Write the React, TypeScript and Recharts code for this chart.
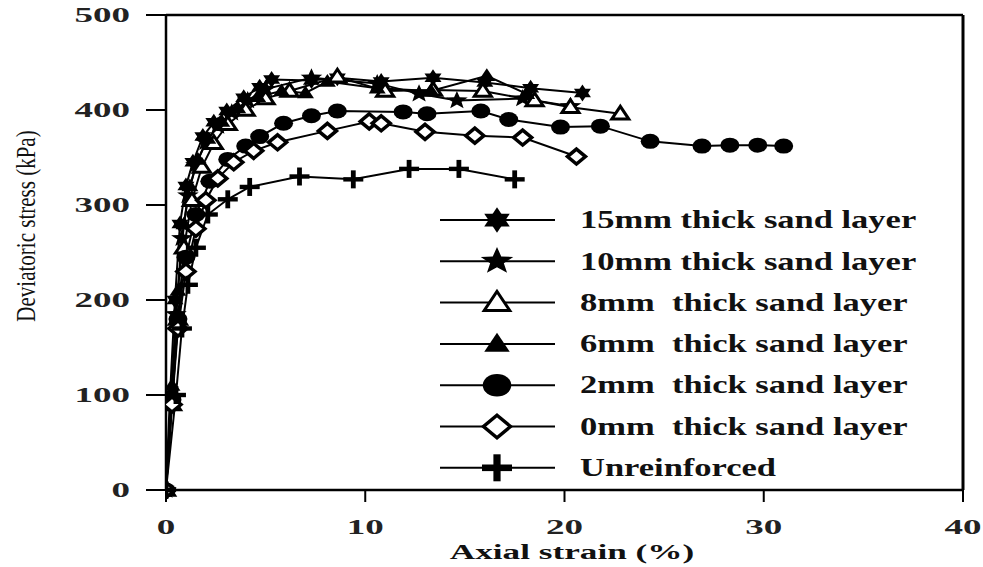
import React from "react";
import { LineChart, Line, XAxis, YAxis, Legend, ReferenceLine } from "recharts";

type Pt = [number, number];

// axial strain (%), deviatoric stress (kPa)
const mm15: Pt[] = [
  [0, 0], [0.2, 100], [0.45, 200], [0.7, 280], [1.0, 320], [1.35, 345], [1.85, 372],
  [2.4, 387], [3.05, 399], [3.9, 413], [4.7, 424], [5.3, 432], [7.3, 431], [8.6, 434],
  [10.8, 430], [13.4, 434], [16.0, 429], [18.3, 423], [20.9, 418],
];
const mm10: Pt[] = [
  [0, 0], [0.25, 95], [0.5, 185], [0.8, 265], [1.1, 310], [1.5, 342], [2.0, 366],
  [2.6, 383], [3.3, 397], [4.1, 410], [5.0, 422], [7.3, 434], [10.6, 428], [12.7, 417],
  [14.6, 410], [17.9, 412], [20.3, 404],
];
const mm8: Pt[] = [
  [0, 0], [0.3, 90], [0.6, 180], [0.9, 255], [1.3, 305], [1.8, 340], [2.4, 365],
  [3.1, 385], [4.0, 400], [5.0, 412], [6.2, 420], [8.6, 435], [11.0, 420], [13.4, 421],
  [15.9, 420], [18.5, 410], [20.3, 403], [22.8, 396],
];
const mm6: Pt[] = [
  [0, 0], [0.3, 110], [0.6, 210], [0.9, 280], [1.2, 320], [1.6, 348], [2.1, 370],
  [2.8, 388], [3.6, 402], [4.6, 414], [5.8, 420], [7.0, 418], [8.1, 430], [10.6, 423],
  [13.3, 420], [16.1, 436], [18.1, 417],
];
const mm2: Pt[] = [
  [0, 0], [0.3, 95], [0.6, 180], [1.0, 245], [1.5, 290], [2.2, 325], [3.1, 348],
  [4.0, 362], [4.7, 372], [5.9, 386], [7.3, 394], [8.6, 399], [11.9, 398], [13.1, 396],
  [15.8, 399], [17.2, 390], [19.8, 382], [21.8, 383], [24.3, 367], [26.9, 362],
  [28.3, 363], [29.7, 363], [31.0, 362],
];
const mm0: Pt[] = [
  [0, 0], [0.3, 90], [0.6, 170], [1.0, 230], [1.5, 275], [2.0, 305], [2.6, 328],
  [3.4, 345], [4.4, 357], [5.6, 366], [8.1, 378], [10.2, 388], [10.8, 386], [13.0, 377],
  [15.5, 373], [17.9, 371], [20.6, 351],
];
const unreinforced: Pt[] = [
  [0, 0], [0.5, 100], [0.8, 170], [1.1, 216], [1.5, 255], [2.1, 290], [3.1, 306],
  [4.2, 319], [6.7, 330], [9.4, 327], [12.2, 338], [14.7, 338], [17.5, 327],
];

const seriesNames = [
  "15mm thick sand layer",
  "10mm thick sand layer",
  "8mm  thick sand layer",
  "6mm  thick sand layer",
  "2mm  thick sand layer",
  "0mm  thick sand layer",
  "Unreinforced",
];
const seriesData = [mm15, mm10, mm8, mm6, mm2, mm0, unreinforced];
const markerKinds = ["hexagram", "star", "openTriangle", "triangle", "circle", "diamond", "plus"];

const xTicks = [0, 10, 20, 30, 40];
const yTicks = [0, 100, 200, 300, 400, 500];

const FONT = "'Liberation Serif', 'Times New Roman', serif";

function Marker({ kind, cx, cy, s = 1 }: { kind: string; cx: number; cy: number; s?: number }) {
  if (cx == null || cy == null) return null;
  switch (kind) {
    case "hexagram": {
      const w = 8.5 * s, h = 8.5 * s;
      return (
        <g fill="#000">
          <polygon points={`${cx},${cy - h} ${cx - w},${cy + h * 0.5} ${cx + w},${cy + h * 0.5}`} />
          <polygon points={`${cx},${cy + h} ${cx - w},${cy - h * 0.5} ${cx + w},${cy - h * 0.5}`} />
        </g>
      );
    }
    case "star": {
      const pts: string[] = [];
      for (let i = 0; i < 10; i++) {
        const r = (i % 2 === 0 ? 9.5 : 4) * s;
        const a = -Math.PI / 2 + (i * Math.PI) / 5;
        pts.push(`${cx + r * Math.cos(a) * 1.2},${cy + r * Math.sin(a)}`);
      }
      return <polygon points={pts.join(" ")} fill="#000" />;
    }
    case "openTriangle": {
      const w = 8.5 * s, h = 7.5 * s;
      return (
        <polygon
          points={`${cx},${cy - h} ${cx - w},${cy + h * 0.7} ${cx + w},${cy + h * 0.7}`}
          fill="#fff"
          stroke="#000"
          strokeWidth={3}
        />
      );
    }
    case "triangle": {
      const w = 8.5 * s, h = 7.5 * s;
      return (
        <polygon
          points={`${cx},${cy - h} ${cx - w},${cy + h * 0.7} ${cx + w},${cy + h * 0.7}`}
          fill="#000"
        />
      );
    }
    case "circle":
      return <ellipse cx={cx} cy={cy} rx={9.5 * s} ry={7.5 * s} fill="#000" />;
    case "diamond": {
      const w = 9 * s, h = 7.5 * s;
      return (
        <polygon
          points={`${cx},${cy - h} ${cx + w},${cy} ${cx},${cy + h} ${cx - w},${cy}`}
          fill="#fff"
          stroke="#000"
          strokeWidth={3.5}
        />
      );
    }
    case "plus":
      return (
        <g fill="#000">
          <rect x={cx - 10 * s} y={cy - 2.2 * s} width={20 * s} height={4.4 * s} />
          <rect x={cx - 2.4 * s} y={cy - 9 * s} width={4.8 * s} height={18 * s} />
        </g>
      );
    default:
      return null;
  }
}

function YTick({ x, y, payload }: any) {
  return (
    <text
      transform={`translate(${x},${y}) scale(1.85,1)`}
      textAnchor="end"
      dominantBaseline="central"
      fontFamily={FONT}
      fontWeight="bold"
      fontSize={20}
      fill="#222"
    >
      {payload.value}
    </text>
  );
}

function XTick({ x, y, payload }: any) {
  return (
    <text
      transform={`translate(${x},${y + 11}) scale(1.85,1)`}
      textAnchor="middle"
      dominantBaseline="central"
      fontFamily={FONT}
      fontWeight="bold"
      fontSize={20}
      fill="#222"
    >
      {payload.value}
    </text>
  );
}

function LegendBox() {
  return (
    <svg width={520} height={290}>
      {seriesNames.map((name, i) => {
        const y = 20 + i * 41.3;
        return (
          <g key={name}>
            <line x1={10} x2={125} y1={y} y2={y} stroke="#000" strokeWidth={2} />
            <Marker kind={markerKinds[i]} cx={67} cy={y} s={1.5} />
            <text
              transform={`translate(150,${y}) scale(1.38,1)`}
              dominantBaseline="central"
              fontFamily={FONT}
              fontWeight="bold"
              fontSize={25}
              fill="#111"
              style={{ whiteSpace: "pre" }}
            >
              {name}
            </text>
          </g>
        );
      })}
    </svg>
  );
}

export default function App() {
  return (
    <div style={{ position: "absolute", left: 0, top: 0, width: 983, height: 567, background: "#fff" }}>
      <LineChart width={983} height={567} margin={{ top: 15, right: 20, bottom: 0, left: 106 }}>
        <XAxis
          type="number"
          dataKey="x"
          domain={[0, 40]}
          ticks={xTicks}
          allowDataOverflow
          axisLine={{ stroke: "#000", strokeWidth: 2.5 }}
          tickLine={{ stroke: "#000", strokeWidth: 2 }}
          tickSize={12}
          tickMargin={14}
          height={77}
          tick={<XTick />}
        />
        <YAxis
          type="number"
          dataKey="y"
          domain={[0, 500]}
          ticks={yTicks}
          axisLine={{ stroke: "#000", strokeWidth: 2.5 }}
          tickLine={{ stroke: "#000", strokeWidth: 2 }}
          tickSize={20}
          tickMargin={16}
          width={60}
          tick={<YTick />}
        />
        <ReferenceLine y={500} stroke="#000" strokeWidth={2.5} ifOverflow="extendDomain" />
        <ReferenceLine x={40} stroke="#000" strokeWidth={3} ifOverflow="extendDomain" />
        {seriesData.map((pts, i) => (
          <Line
            key={seriesNames[i]}
            name={seriesNames[i]}
            data={pts.map(([x, y]) => ({ x, y }))}
            dataKey="y"
            type="linear"
            stroke="#000"
            strokeWidth={2}
            isAnimationActive={false}
            dot={(p: any) => (
              <Marker key={`${i}-${p.index}`} kind={markerKinds[i]} cx={p.cx} cy={p.cy} />
            )}
            activeDot={false}
          />
        ))}
        <Legend
          layout="horizontal"
          verticalAlign="middle"
          align="center"
          content={() => <LegendBox />}
          wrapperStyle={{ position: "absolute", left: 430, top: 200, width: 520, height: 290 }}
        />
      </LineChart>
      <div
        style={{
          position: "absolute",
          left: 27,
          top: 226,
          transform: "translate(-50%, -50%) rotate(-90deg) scale(1, 1.3)",
          fontFamily: FONT,
          fontSize: 21,
          whiteSpace: "nowrap",
          color: "#111",
        }}
      >
        Deviatoric stress (kPa)
      </div>
      <div
        style={{
          position: "absolute",
          left: 572,
          top: 552,
          transform: "translate(-50%, -50%) scale(1.76, 1)",
          fontFamily: FONT,
          fontWeight: "bold",
          fontSize: 20,
          whiteSpace: "nowrap",
          color: "#111",
        }}
      >
        Axial strain (%)
      </div>
    </div>
  );
}
